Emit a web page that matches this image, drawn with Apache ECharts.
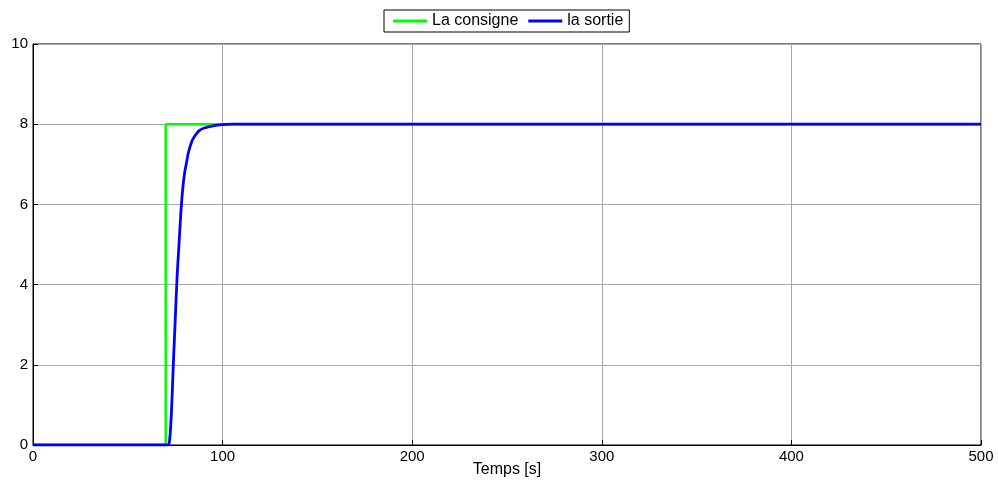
<!DOCTYPE html>
<html><head><meta charset="utf-8">
<script src="https://cdn.jsdelivr.net/npm/echarts@6/dist/echarts.min.js"></script>
<style>html,body{margin:0;padding:0;background:#fff}#c{width:998px;height:483px}</style>
</head><body><div id="c"></div>
<script>
const consigneT = [0, 70, 70, 500];
const consigneV = [0, 0, 8, 8];
const sortieT = [0, 71, 72, 73, 74, 75, 76, 77, 78, 79, 80, 81, 82, 84, 86, 88, 90, 95, 100, 105, 500];
const sortieV = [0, 0, 0.1, 0.8, 2.0, 3.1, 4.2, 5.0, 5.8, 6.4, 6.8, 7.05, 7.3, 7.6, 7.75, 7.85, 7.9, 7.96, 7.99, 8, 8];
const xTicks = [0, 100, 200, 300, 400, 500];
const yTicks = [0, 2, 4, 6, 8, 10];

const zip = (a, b) => a.map((v, i) => [v, b[i]]);
const font = 'Liberation Sans, Arial, sans-serif';
const chart = echarts.init(document.getElementById('c'));
chart.setOption({
  animation: false,
  backgroundColor: '#fff',
  grid: {left: 33, right: 17, top: 44, bottom: 38, show: true, borderColor: '#000', borderWidth: 1,
         containLabel: false, outerBoundsMode: 'none'},
  legend: {
    top: 10, left: 384, itemGap: 10,
    borderColor: '#000', borderWidth: 1, padding: [3, 6, 3, 9],
    icon: 'rect', itemWidth: 34, itemHeight: 3,
    textStyle: {fontFamily: font, fontSize: 16, color: '#000'},
    data: ['La consigne', 'la sortie']
  },
  xAxis: {
    type: 'value', min: xTicks[0], max: xTicks[xTicks.length - 1], interval: 100,
    name: 'Temps [s]', nameLocation: 'middle', nameGap: 17, nameMoveOverlap: false,
    nameTextStyle: {fontFamily: font, fontSize: 16, color: '#000'},
    axisLine: {onZero: false, lineStyle: {color: '#000'}},
    axisTick: {inside: true, length: 5, lineStyle: {color: '#000'}},
    axisLabel: {fontFamily: font, fontSize: 15, color: '#000', margin: 4},
    splitLine: {show: true, lineStyle: {color: '#a8a8a8', width: 1}}
  },
  yAxis: {
    type: 'value', min: yTicks[0], max: yTicks[yTicks.length - 1], interval: 2,
    axisLine: {show: true, lineStyle: {color: '#000'}},
    axisTick: {show: true, inside: true, length: 5, lineStyle: {color: '#000'}},
    axisLabel: {fontFamily: font, fontSize: 15, color: '#000', margin: 5},
    splitLine: {show: true, lineStyle: {color: '#a8a8a8', width: 1}}
  },
  series: [
    {name: 'La consigne', type: 'line', showSymbol: false, data: zip(consigneT, consigneV),
     lineStyle: {color: '#00ff00', width: 2.5}, itemStyle: {color: '#00ff00'}},
    {name: 'la sortie', type: 'line', showSymbol: false, smooth: 0.3, data: zip(sortieT, sortieV),
     lineStyle: {color: '#0000ff', width: 2.8}, itemStyle: {color: '#0000ff'}}
  ]
});
</script></body></html>
